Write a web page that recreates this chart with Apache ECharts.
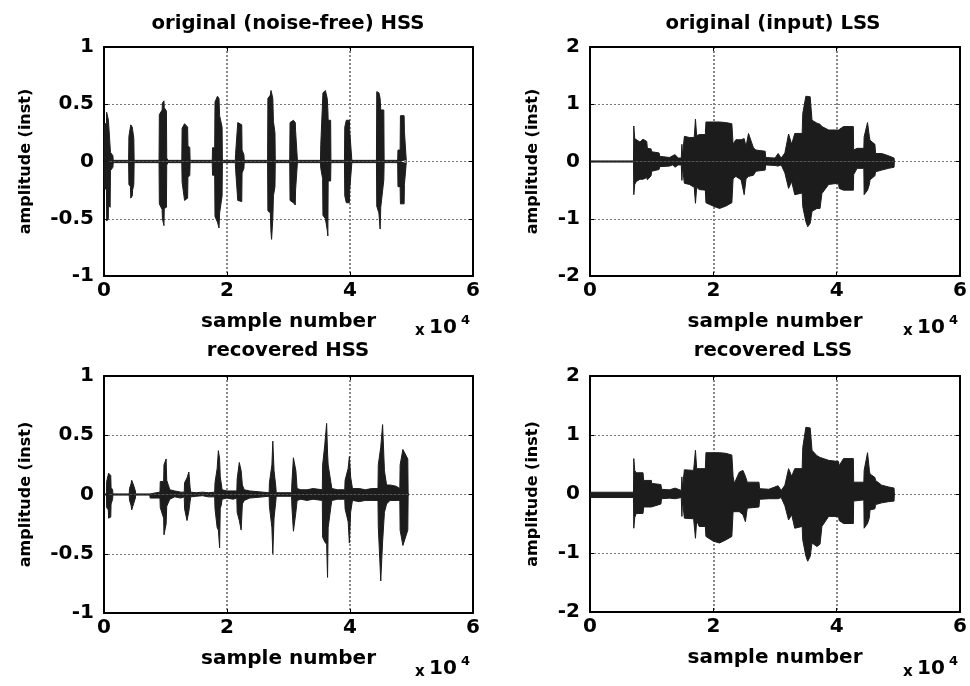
<!DOCTYPE html>
<html>
<head>
<meta charset="utf-8">
<script src="https://cdn.jsdelivr.net/npm/echarts@6/dist/echarts.min.js"></script>
<style>
html,body{margin:0;padding:0;background:#fff;}
#chart{width:970px;height:686px;}
</style>
</head>
<body>
<div id="chart"></div>
<script>
// ---------- data: envelope of each signal, [sample number, upper, lower] ----------
var hssOrig = [
[0,0.01,-0.01],[50,0.33,-0.24],[400,0.33,-0.24],[430,0.43,-0.52],[700,0.42,-0.50],[720,0.36,-0.38],[1000,0.36,-0.40],[1050,0.08,-0.08],[1450,0.05,-0.05],[1500,0.01,-0.01],
[4000,0.01,-0.01],[4050,0.22,-0.20],[4300,0.22,-0.22],[4350,0.32,-0.32],[4600,0.30,-0.30],[4650,0.28,-0.25],[4850,0.20,-0.20],[4900,0.01,-0.01],
[8950,0.01,-0.01],[9000,0.41,-0.37],[9450,0.45,-0.42],[9500,0.51,-0.50],[9750,0.53,-0.56],[9800,0.47,-0.41],[10150,0.44,-0.40],[10200,0.03,-0.03],[10400,0.01,-0.01],
[12650,0.01,-0.01],[12700,0.29,-0.18],[13000,0.29,-0.30],[13100,0.33,-0.34],[13600,0.30,-0.32],[13650,0.14,-0.14],[13950,0.12,-0.12],[14000,0.01,-0.01],
[17600,0.01,-0.01],[17650,0.12,-0.12],[18000,0.12,-0.12],[18050,0.52,-0.48],[18450,0.57,-0.53],[18700,0.55,-0.58],[18800,0.40,-0.45],[19200,0.30,-0.30],[19250,0.01,-0.01],
[21350,0.01,-0.01],[21400,0.07,-0.07],[21700,0.07,-0.07],[21750,0.34,-0.34],[22400,0.32,-0.35],[22450,0.10,-0.10],[22750,0.06,-0.06],[22800,0.01,-0.01],
[26600,0.01,-0.01],[26650,0.55,-0.43],[27050,0.58,-0.45],[27150,0.62,-0.62],[27250,0.60,-0.68],[27450,0.55,-0.50],[27550,0.35,-0.30],[27800,0.25,-0.22],[27850,0.01,-0.01],
[30200,0.01,-0.01],[30250,0.34,-0.34],[30800,0.36,-0.36],[31100,0.34,-0.38],[31150,0.27,-0.25],[31400,0.27,-0.25],[31450,0.01,-0.01],
[35200,0.01,-0.01],[35250,0.15,-0.06],[35550,0.15,-0.15],[35600,0.60,-0.47],[36000,0.62,-0.50],[36300,0.55,-0.60],[36400,0.45,-0.65],[36450,0.36,-0.17],[36850,0.36,-0.17],[36900,0.01,-0.01],
[39100,0.01,-0.01],[39150,0.30,-0.30],[39400,0.36,-0.36],[39900,0.36,-0.36],[39950,0.27,-0.25],[40250,0.27,-0.25],[40300,0.01,-0.01],
[44300,0.01,-0.01],[44350,0.61,-0.39],[44700,0.60,-0.45],[44900,0.55,-0.59],[45000,0.45,-0.40],[45500,0.45,-0.16],[45550,0.01,-0.01],
[47750,0.01,-0.01],[47800,0.10,-0.22],[48150,0.10,-0.22],[48200,0.40,-0.37],[48800,0.40,-0.37],[48850,0.26,-0.20],[49100,0.26,-0.20],[49150,0.01,-0.01],[49200,0,0]
];

var lssOrig = [
[0,0.01,-0.01],[7050,0.01,-0.01],[7100,0.62,-0.58],[7250,0.40,-0.40],[7500,0.38,-0.35],[8100,0.34,-0.31],[8600,0.39,-0.31],[9200,0.35,-0.28],[9300,0.23,-0.32],[9900,0.22,-0.25],
[10000,0.17,-0.17],[11200,0.15,-0.14],[11300,0.09,-0.09],[12900,0.07,-0.08],[13400,0.10,-0.06],[13800,0.12,-0.10],[14300,0.06,-0.06],[14800,0.06,-0.06],[14900,0.30,-0.33],[15000,0.10,-0.10],
[15300,0.44,-0.38],[16100,0.42,-0.40],[16900,0.42,-0.45],[17100,0.74,-0.73],[17300,0.45,-0.45],[17700,0.47,-0.49],[18700,0.47,-0.50],[18800,0.69,-0.72],[20000,0.69,-0.78],[21000,0.69,-0.82],
[22000,0.68,-0.78],[23000,0.66,-0.72],[23200,0.30,-0.30],[23650,0.38,-0.26],[24500,0.38,-0.32],[25000,0.40,-0.58],[25300,0.26,-0.30],[25700,0.49,-0.26],[26500,0.24,-0.24],[26900,0.20,-0.17],
[28400,0.18,-0.15],[28500,0.07,-0.06],[30000,0.06,-0.07],[30500,0.14,-0.08],[31000,0.06,-0.06],[31600,0.15,-0.20],[32200,0.48,-0.47],[32700,0.30,-0.35],[33200,0.49,-0.58],[34400,0.49,-0.55],
[34500,0.84,-0.79],[35000,1.14,-1.05],[35300,1.14,-1.14],[35700,1.13,-1.08],[36000,0.72,-0.87],[36800,0.67,-0.82],[37300,0.65,-0.82],[37600,0.61,-0.56],[38700,0.55,-0.40],[40300,0.55,-0.38],
[40400,0.58,-0.47],[41100,0.61,-0.50],[42700,0.61,-0.50],[42750,0.20,-0.23],[43300,0.23,-0.12],[44400,0.23,-0.12],[44450,0.43,-0.58],[45000,0.68,-0.50],[45300,0.43,-0.40],[45400,0.37,-0.32],
[46200,0.30,-0.25],[46300,0.14,-0.18],[47300,0.14,-0.15],[47400,0.11,-0.15],[48400,0.10,-0.12],[49300,0.06,-0.10],[49350,0,0]
];

var hssRec = [
[0,0.005,-0.005],[400,0.005,-0.005],[430,0.11,-0.11],[700,0.11,-0.13],[750,0.18,-0.20],[1100,0.16,-0.19],[1150,0.06,-0.08],[1400,0.04,-0.04],[1450,0.005,-0.005],
[4100,0.005,-0.005],[4150,0.05,-0.05],[4400,0.09,-0.09],[4500,0.12,-0.13],[4800,0.08,-0.08],[5100,0.03,-0.03],[5150,0.005,-0.005],
[7450,0.005,-0.005],[7500,0.02,-0.03],[8500,0.015,-0.03],[9100,0.02,-0.03],[9150,0.11,-0.11],[9700,0.11,-0.20],[9750,0.25,-0.34],[10100,0.30,-0.25],[10200,0.12,-0.10],[10700,0.04,-0.04],
[11500,0.03,-0.02],[12500,0.02,-0.03],[13050,0.02,-0.02],[13100,0.10,-0.12],[13500,0.14,-0.22],[13800,0.19,-0.14],[14000,0.06,-0.06],[14100,0.02,-0.02],[15000,0.015,-0.015],[16000,0.02,-0.01],
[17000,0.015,-0.02],[18000,0.02,-0.02],[18050,0.10,-0.12],[18400,0.22,-0.28],[18600,0.37,-0.30],[18800,0.30,-0.45],[18900,0.15,-0.12],[19100,0.08,-0.08],[19200,0.04,-0.04],[20000,0.03,-0.03],
[21000,0.03,-0.04],[21600,0.03,-0.03],[21650,0.13,-0.15],[22000,0.27,-0.22],[22300,0.20,-0.30],[22500,0.08,-0.08],[22800,0.04,-0.05],[23700,0.03,-0.03],[23800,0.015,-0.015],
[26850,0.015,-0.015],[26900,0.10,-0.10],[27300,0.25,-0.28],[27450,0.45,-0.50],[27650,0.20,-0.20],[27950,0.06,-0.05],[28000,0.015,-0.015],
[30500,0.015,-0.015],[30550,0.10,-0.10],[30800,0.31,-0.31],[31200,0.20,-0.15],[31400,0.05,-0.05],[32000,0.04,-0.04],[33000,0.04,-0.05],[34000,0.05,-0.04],[35500,0.04,-0.05],
[35550,0.25,-0.36],[35900,0.42,-0.40],[36200,0.60,-0.42],[36350,0.35,-0.70],[36450,0.25,-0.28],[36900,0.10,-0.10],[37050,0.05,-0.05],[38000,0.04,-0.04],[39150,0.04,-0.04],
[39200,0.12,-0.12],[39700,0.22,-0.23],[39900,0.32,-0.41],[40100,0.15,-0.15],[40400,0.05,-0.05],[41500,0.05,-0.06],[42500,0.04,-0.05],[43500,0.05,-0.05],[44550,0.05,-0.05],
[44600,0.25,-0.27],[45000,0.40,-0.73],[45300,0.59,-0.40],[45600,0.20,-0.15],[45950,0.08,-0.08],[46500,0.08,-0.05],[47500,0.07,-0.05],[48100,0.05,-0.05],
[48150,0.25,-0.30],[48600,0.38,-0.43],[49400,0.30,-0.30],[49450,0.02,-0.02],[49500,0,0]
];

var lssRec = [
[0,0.03,-0.06],[7050,0.03,-0.06],[7100,0.60,-0.58],[7250,0.40,-0.40],[7500,0.36,-0.33],[8600,0.36,-0.33],[8700,0.23,-0.22],[9950,0.23,-0.22],[10000,0.18,-0.19],[11500,0.16,-0.17],
[11600,0.08,-0.08],[12900,0.07,-0.07],[13800,0.10,-0.08],[14800,0.06,-0.06],[14900,0.29,-0.38],[15000,0.10,-0.10],[15300,0.41,-0.41],[16800,0.40,-0.42],[17100,0.74,-0.75],[17300,0.43,-0.45],
[17700,0.43,-0.55],[18700,0.43,-0.55],[18800,0.70,-0.72],[20000,0.70,-0.80],[21000,0.70,-0.83],[22000,0.69,-0.78],[23000,0.66,-0.72],[23200,0.30,-0.30],[23400,0.18,-0.27],[24200,0.37,-0.30],
[24800,0.40,-0.35],[25200,0.30,-0.47],[25500,0.20,-0.24],[27400,0.20,-0.22],[27500,0.09,-0.09],[29000,0.08,-0.08],[30500,0.14,-0.08],[31000,0.06,-0.06],[31600,0.15,-0.20],[32200,0.43,-0.44],
[32700,0.30,-0.35],[33200,0.43,-0.58],[34400,0.43,-0.55],[34500,0.79,-0.78],[35000,1.13,-1.05],[35300,1.13,-1.14],[35700,1.12,-1.06],[36000,0.74,-0.83],[36800,0.65,-0.89],[37300,0.62,-0.85],
[37600,0.60,-0.55],[38700,0.57,-0.38],[40300,0.55,-0.38],[40400,0.48,-0.45],[41100,0.60,-0.50],[42700,0.60,-0.50],[42750,0.20,-0.12],[44400,0.20,-0.10],[44450,0.40,-0.58],[45000,0.70,-0.50],
[45300,0.40,-0.40],[45400,0.34,-0.27],[46200,0.28,-0.25],[46300,0.23,-0.18],[47300,0.15,-0.15],[48400,0.12,-0.13],[49300,0.10,-0.12],[49350,0,0]
];

var titles = ['original (noise-free) HSS', 'original (input) LSS', 'recovered HSS', 'recovered LSS'];
var xName = 'sample number';
var yName = 'amplitude (inst)';
var xRange = [0, 60000, 20000];          // min, max, interval
var yRangeHSS = [-1, 1, 0.5];
var yRangeLSS = [-2, 2, 1];

// ---------- layout ----------
var FONT = '"DejaVu Sans", "Liberation Sans", sans-serif';
var INK = '#1c1c1c';
var panels = [
  {data: hssOrig, y: yRangeHSS, grid: {left: 104, top: 47, width: 369, height: 229}, yGap: 70, title: [288, 24], exp: [415, 328]},
  {data: lssOrig, y: yRangeLSS, grid: {left: 590, top: 47, width: 372, height: 229}, yGap: 49, title: [773, 24], exp: [903, 328]},
  {data: hssRec,  y: yRangeHSS, grid: {left: 104, top: 376, width: 369, height: 237}, yGap: 70, title: [288, 351], exp: [415, 669]},
  {data: lssRec,  y: yRangeLSS, grid: {left: 590, top: 376, width: 372, height: 236}, yGap: 49, title: [773, 351], exp: [903, 669]}
];

var option = {
  backgroundColor: '#fff',
  animation: false,
  textStyle: {fontFamily: FONT},
  grid: [], xAxis: [], yAxis: [], series: [], graphic: []
};

panels.forEach(function (p, i) {
  option.grid.push(Object.assign({containLabel: false}, p.grid));
  var boxLine = {show: true, onZero: false, lineStyle: {color: '#000', width: 2}};
  var tick = {show: true, inside: true, length: 4, lineStyle: {color: '#000', width: 1}};
  // bottom x axis
  option.xAxis.push({
    type: 'value', gridIndex: i, position: 'bottom', min: xRange[0], max: xRange[1], interval: xRange[2],
    axisLine: boxLine, axisTick: tick,
    axisLabel: {color: '#000', fontSize: 20, fontWeight: 'bold', fontFamily: FONT, margin: 5,
      formatter: function (v) { return String(v / 10000); }},
    splitLine: {show: true, lineStyle: {color: '#888', width: 2, type: [2, 2]}},
    name: xName, nameLocation: 'middle', nameGap: 36,
    nameTextStyle: {color: '#000', fontSize: 20, fontWeight: 'bold', fontFamily: FONT}
  });
  // top x axis (box)
  option.xAxis.push({
    type: 'value', gridIndex: i, position: 'top', min: xRange[0], max: xRange[1], interval: xRange[2],
    axisLine: boxLine, axisTick: tick, axisLabel: {show: false}, splitLine: {show: false}
  });
  // left y axis
  option.yAxis.push({
    type: 'value', gridIndex: i, position: 'left', min: p.y[0], max: p.y[1], interval: p.y[2],
    axisLine: boxLine, axisTick: tick,
    axisLabel: {color: '#000', fontSize: 20, fontWeight: 'bold', fontFamily: FONT, margin: 10},
    splitLine: {show: true, lineStyle: {color: '#777', width: 1, type: [2, 2]}},
    name: yName, nameLocation: 'middle', nameGap: p.yGap,
    nameTextStyle: {color: '#000', fontSize: 16, fontWeight: 'bold', fontFamily: FONT}
  });
  // right y axis (box)
  option.yAxis.push({
    type: 'value', gridIndex: i, position: 'right', min: p.y[0], max: p.y[1], interval: p.y[2],
    axisLine: boxLine, axisTick: tick, axisLabel: {show: false}, splitLine: {show: false}
  });

  var upper = p.data.map(function (d) { return [d[0], d[1]]; });
  var lower = p.data.map(function (d) { return [d[0], d[2]]; });
  [upper, lower].forEach(function (arr) {
    option.series.push({
      type: 'line', xAxisIndex: 2 * i, yAxisIndex: 2 * i, data: arr,
      showSymbol: false, symbol: 'none', silent: true, z: 3,
      lineStyle: {color: INK, width: 1},
      areaStyle: {color: INK, opacity: 1, origin: 0}
    });
  });

  // title
  option.graphic.push({type: 'text', x: p.title[0], y: p.title[1], z: 10,
    style: {text: titles[i], fill: '#000', font: 'bold 19.7px ' + FONT, align: 'center', verticalAlign: 'middle'}});
  // exponent label  x 10^4
  var ex = p.exp[0], ey = p.exp[1];
  option.graphic.push({type: 'text', x: ex, y: ey + 3, z: 10,
    style: {text: 'x', fill: '#000', font: 'bold 15px ' + FONT, align: 'left', verticalAlign: 'middle'}});
  option.graphic.push({type: 'text', x: ex + 14, y: ey, z: 10,
    style: {text: '10', fill: '#000', font: 'bold 20px ' + FONT, align: 'left', verticalAlign: 'middle'}});
  option.graphic.push({type: 'text', x: ex + 46, y: ey - 7, z: 10,
    style: {text: '4', fill: '#000', font: 'bold 13px ' + FONT, align: 'left', verticalAlign: 'middle'}});
});

var chart = echarts.init(document.getElementById('chart'), null, {renderer: 'canvas'});
chart.setOption(option);
</script>
</body>
</html>
